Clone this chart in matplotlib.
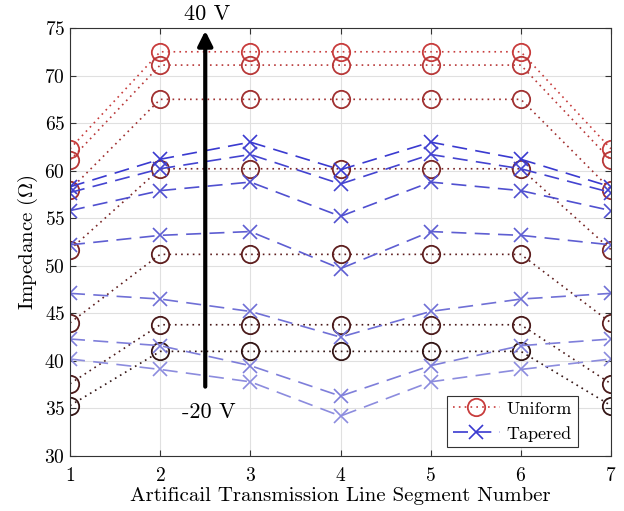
import matplotlib
matplotlib.use('Agg')
import matplotlib.pyplot as plt
import numpy as np

plt.rcParams['font.family'] = ['cmr10', 'DejaVu Serif']
plt.rcParams['mathtext.fontset'] = 'cm'
plt.rcParams['axes.formatter.use_mathtext'] = True

segments = [1, 2, 3, 4, 5, 6, 7]

# uniform line, one row per bias voltage (40 V at top down to -20 V)
uniform = [
    [62.3, 72.5, 72.5, 72.5, 72.5, 72.5, 62.3],
    [61.1, 71.1, 71.1, 71.1, 71.1, 71.1, 61.1],
    [58.0, 67.5, 67.5, 67.5, 67.5, 67.5, 58.0],
    [51.7, 60.2, 60.2, 60.2, 60.2, 60.2, 51.7],
    [44.0, 51.2, 51.2, 51.2, 51.2, 51.2, 44.0],
    [37.6, 43.8, 43.8, 43.8, 43.8, 43.8, 37.6],
    [35.3, 41.0, 41.0, 41.0, 41.0, 41.0, 35.3],
]

tapered = [
    [58.3, 61.2, 63.0, 60.1, 63.0, 61.2, 58.3],
    [57.7, 60.2, 61.7, 58.6, 61.7, 60.2, 57.7],
    [55.8, 57.9, 58.8, 55.2, 58.8, 57.9, 55.8],
    [52.2, 53.2, 53.6, 49.7, 53.6, 53.2, 52.2],
    [47.1, 46.5, 45.2, 42.5, 45.2, 46.5, 47.1],
    [42.3, 41.6, 39.5, 36.3, 39.5, 41.6, 42.3],
    [40.2, 39.1, 37.8, 34.2, 37.8, 39.1, 40.2],
]

uniform_colors = ['#c83c3c', '#b83838', '#a03030', '#7a2626', '#5e1e1e', '#4a1a1a', '#321414']
tapered_colors = ['#3a3ad0', '#4444d0', '#5050d0', '#5e5ed2', '#7070d6', '#7e7eda', '#8c8cde']

fig = plt.figure(figsize=(6.24, 5.11), dpi=100)
ax = fig.add_axes([70/624, 1 - 456/511, 541/624, 428/511])

dots = (0, (1, 2.5))
dashes = (0, (9, 5))
for row, c in zip(uniform, uniform_colors):
    ax.plot(segments, row, linestyle=dots, color=c, marker='o', markersize=12.5,
            markerfacecolor='none', markeredgewidth=1.3, linewidth=1.2)
for row, c in zip(tapered, tapered_colors):
    ax.plot(segments, row, linestyle=dashes, color=c, marker='x', markersize=10,
            markeredgewidth=1.2, linewidth=1.2)

# legend proxies
h1, = ax.plot([], [], linestyle=dots, color=uniform_colors[0], marker='o', markersize=12.5,
              markerfacecolor='none', markeredgewidth=1.3, linewidth=1.2, label='Uniform')
h2, = ax.plot([], [], linestyle=dashes, color=tapered_colors[0], marker='x', markersize=10,
              markeredgewidth=1.2, linewidth=1.2, label='Tapered')
leg = ax.legend(handles=[h1, h2], loc='lower right', fontsize=13, fancybox=False,
                edgecolor='#333333', framealpha=1, borderpad=0.3, handlelength=2.6,
                handletextpad=0.4, bbox_to_anchor=(0.955, 0.0))
leg.get_frame().set_linewidth(0.8)

ax.annotate('', xy=(2.5, 75), xytext=(2.5, 37),
            arrowprops=dict(arrowstyle='-|>', color='black', lw=3, mutation_scale=22))
ax.text(2.52, 75.4, '40 V', ha='center', va='bottom', fontsize=16)
ax.text(2.54, 35.6, '-20 V', ha='center', va='top', fontsize=16)

ax.set_xlim(1, 7)
ax.set_ylim(30, 75)
ax.set_xticks(segments)
ax.set_yticks(np.arange(30, 76, 5))
ax.grid(True, color='#e0e0e0', linewidth=0.8)
ax.set_axisbelow(True)
ax.tick_params(direction='in', labelsize=14, length=4, color='#333333', top=True, right=True)
ax.tick_params(axis='x', pad=8)
for s in ax.spines.values():
    s.set_color('#333333')
    s.set_linewidth(0.8)
ax.set_xlabel('Artificail Transmission Line Segment Number', fontsize=15, labelpad=1)
ax.set_ylabel(r'Impedance ($\Omega$)', fontsize=15, labelpad=3)

fig.savefig('out.png', dpi=100)
